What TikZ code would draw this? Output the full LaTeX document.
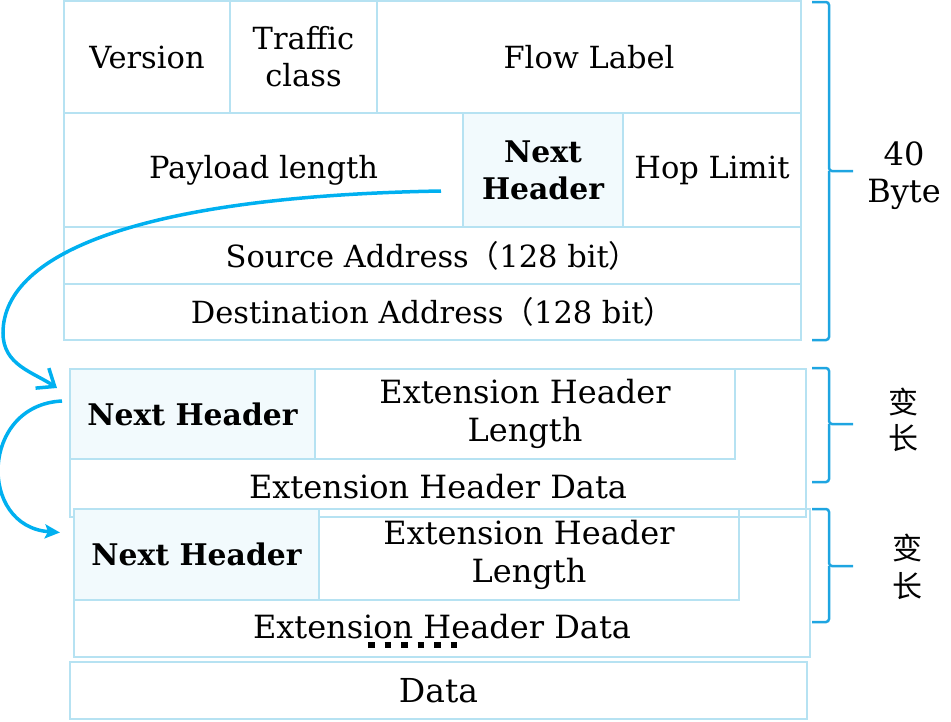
\documentclass[tikz,border=0pt]{standalone}
\usepackage{fontspec}
\setmainfont{DejaVu Serif}
\newfontfamily\cjk{Noto Sans CJK SC}
\usepackage{xcolor}
\usetikzlibrary{arrows.meta,positioning,calc}
\definecolor{boxline}{RGB}{182,226,242}
\definecolor{nhfill}{RGB}{242,250,253}
\definecolor{linkblue}{RGB}{0,176,240}
\definecolor{braceblue}{RGB}{30,165,225}
\tikzset{
  cell/.style={draw=boxline,line width=2pt,anchor=north west,inner sep=0pt,
    outer sep=0pt,align=center},
  nhcell/.style={cell,fill=nhfill,font=\fontsize{29.8}{37}\selectfont\bfseries},
  txt/.style={align=center,inner sep=0pt},
  hdrfont/.style={font=\fontsize{30.5}{37}\selectfont},
  extfont/.style={font=\fontsize{32}{38}\selectfont},
  link/.style={line width=3.5pt,linkblue},
  brace/.style={line width=2.5pt,braceblue,rounded corners=3pt},
  more/.style={line width=6.5pt,dash pattern=on 6.5pt off 10pt}
}

\begin{document}
\begin{tikzpicture}[x=1pt,y=-1pt]
  \useasboundingbox (0,0) rectangle (951,721);
  % fixed IPv6 header
  \node[cell,hdrfont,minimum width=166,minimum height=112] (ver) at (64,1) {Version};
  \node[cell,hdrfont,minimum width=147,minimum height=112] (tc) at (230,1) {Traffic\\class};
  \node[cell,hdrfont,minimum width=424,minimum height=112] (fl) at (377,1) {Flow Label};
  \node[cell,hdrfont,minimum width=399,minimum height=114] (pl) at (64,113) {Payload length};
  \node[nhcell,minimum width=160,minimum height=114] (nh0) at (463,113) {Next\\Header};
  \node[cell,hdrfont,minimum width=178,minimum height=114] (hl) at (623,113) {Hop Limit};
  \node[cell,hdrfont,minimum width=737,minimum height=57] (src) at (64,227)
    {Source Address{\cjk （}128 bit{\cjk ）}};
  \node[cell,hdrfont,minimum width=737,minimum height=56] (dst) at (64,284)
    {Destination Address{\cjk （}128 bit{\cjk ）}};
  % first extension header
  \node[cell,minimum width=736,minimum height=148] (e1) at (70,369) {};
  \node[nhcell,minimum width=245,minimum height=90] (nh1) at (70,369) {Next Header};
  \node[cell,extfont,minimum width=420,minimum height=90] (len1) at (315,369)
    {Extension Header\\Length};
  \node[txt,extfont] (d1) at (438,487) {Extension Header Data};
  % second extension header
  \node[cell,minimum width=736,minimum height=148] (e2) at (74,509) {};
  \node[nhcell,minimum width=245,minimum height=91] (nh2) at (74,509) {Next Header};
  \node[cell,extfont,minimum width=420,minimum height=91] (len2) at (319,509)
    {Extension Header\\Length};
  \node[txt,extfont] (d2) at (442,627) {Extension Header Data};
  \coordinate (ml) at (368,645);
  \coordinate (mr) at (457,645);
  \draw[more] (ml) -- (mr);
  % payload
  \node[cell,font=\fontsize{33}{38}\selectfont,minimum width=737,minimum height=57]
    (data) at (70,662) {Data};
  % sizes
  \draw[brace] (812,2) -- (829,2) -- (829,171) -- (853,171);
  \draw[brace] (829,171) -- (829,340) -- (812,340);
  \node[txt,font=\fontsize{32}{37}\selectfont] (len40) at (904,176) {40\\Byte};
  \draw[brace] (812,368) -- (829,368) -- (829,424) -- (853,424);
  \draw[brace] (829,424) -- (829,482) -- (812,482);
  \node[txt,font=\fontsize{30}{36}\cjk] (var1) at (903,420) {变\\长};
  \draw[brace] (812,509) -- (829,509) -- (829,566) -- (853,566);
  \draw[brace] (829,566) -- (829,622) -- (812,622);
  \node[txt,font=\fontsize{30}{38}\cjk] (var2) at (907,567) {变\\长};
  % next header chain
  \coordinate (s1) at ([shift={(-22,21)}]nh0.west);
  \coordinate (k1) at (3,333);
  \coordinate (t1) at ([shift={(-13,-26)}]nh1.west);
  \draw[link,-{Straight Barb[length=15pt,width=24pt]}] (s1)
    .. controls +(-290,5) and +(0,-83) .. (k1)
    .. controls +(0,32) and +(-24,-16) .. (t1);
  \coordinate (s2) at ([shift={(-8,-13)}]nh1.west);
  \coordinate (t2) at ([shift={(-14,-22)}]nh2.west);
  \draw[link,-{Stealth[length=15pt,width=14pt,inset=3pt]}] (s2)
    .. controls +(-82,4) and +(-82,-6) .. (t2);
\end{tikzpicture}
\end{document}
